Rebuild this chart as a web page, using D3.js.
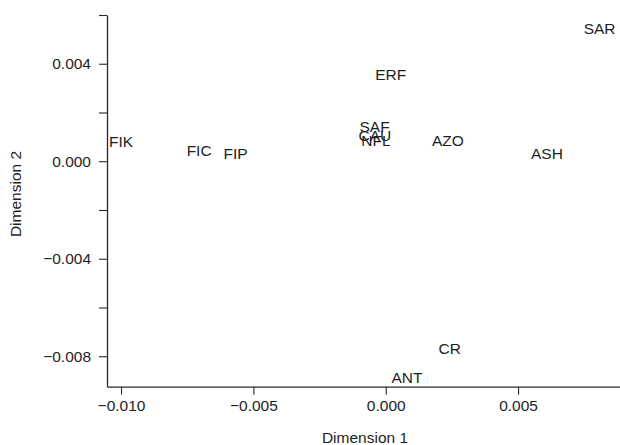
<!DOCTYPE html>
<html>
<head>
<meta charset="utf-8">
<script src="https://cdn.jsdelivr.net/npm/d3@7"></script>
<style>
  body { margin: 0; background: #fff; }
  text { font-family: "Liberation Sans", Arial, sans-serif; fill: #1e1e1e; }
</style>
</head>
<body>
<div id="chart"></div>
<script>
// site labels and their two MDS coordinates
const sites = ['FIK', 'FIC', 'FIP', 'SAR', 'ERF', 'SAF', 'CAU', 'NFL', 'AZO', 'ASH', 'CR', 'ANT'];
const dim1 = [-0.0100, -0.00705, -0.00567, 0.00808, 0.00019, -0.00042, -0.00041, -0.00037, 0.00235, 0.00609, 0.00242, 0.00080];
const dim2 = [0.00082, 0.00045, 0.00032, 0.00545, 0.00356, 0.00141, 0.00106, 0.00086, 0.00086, 0.00032, -0.00767, -0.00886];

const xTicks = [-0.010, -0.005, 0.000, 0.005];
const yTicks = [-0.008, -0.006, -0.004, -0.002, 0.000, 0.002, 0.004, 0.006];
const yLabelled = [-0.008, -0.004, 0.000, 0.004];

const W = 620, H = 445;
const fontSize = 15.5;

let svg = d3.select('#chart').append('svg')
  .attr('width', W)
  .attr('height', H);

//scales
let x = d3.scaleLinear().domain([-0.01053, 0.00885]).range([107, 620]);
let y = d3.scaleLinear().domain([-0.00925, 0.006]).range([386.7, 15]);

const fmt = d3.format('.3f');

//x axis
let xAxis = svg.append('g')
  .attr('transform', `translate(0,${y.range()[0]})`)
  .call(d3.axisBottom(x).tickValues(xTicks).tickFormat(fmt).tickSize(8).tickPadding(5).tickSizeOuter(0));

//y axis
let yAxis = svg.append('g')
  .attr('transform', `translate(${x.range()[0]},0)`)
  .call(d3.axisLeft(y).tickValues(yTicks)
    .tickFormat(d => yLabelled.some(v => Math.abs(v - d) < 1e-9) ? fmt(d) : '')
    .tickSize(8).tickPadding(8).tickSizeOuter(0));

[xAxis, yAxis].forEach(a => {
  a.select('.domain').attr('stroke', '#2a2a2a').attr('stroke-width', 1.3);
  a.selectAll('.tick line').attr('stroke', '#2a2a2a').attr('stroke-width', 1.1);
  a.selectAll('.tick text')
    .style('font-family', '"Liberation Sans", Arial, sans-serif')
    .style('font-size', fontSize + 'px')
    .attr('fill', '#1e1e1e');
});

//axis titles
svg.append('text')
  .attr('x', 365)
  .attr('y', 443)
  .attr('text-anchor', 'middle')
  .style('font-size', fontSize + 'px')
  .text('Dimension 1');

svg.append('text')
  .attr('transform', 'translate(21,194) rotate(-90)')
  .attr('text-anchor', 'middle')
  .style('font-size', fontSize + 'px')
  .text('Dimension 2');

//site labels plotted at their coordinates
svg.append('g')
  .selectAll('text')
  .data(sites)
  .enter()
  .append('text')
  .attr('x', (d, i) => x(dim1[i]))
  .attr('y', (d, i) => y(dim2[i]))
  .attr('dy', '0.35em')
  .attr('text-anchor', 'middle')
  .style('font-size', fontSize + 'px')
  .text(d => d);
</script>
</body>
</html>
